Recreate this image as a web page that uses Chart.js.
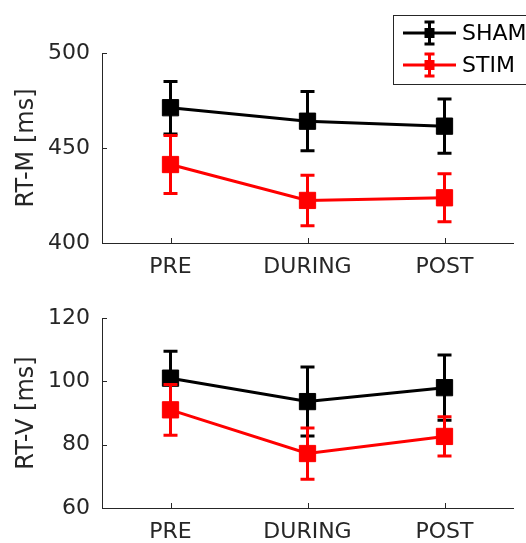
<!DOCTYPE html>
<html>
<head>
<meta charset="utf-8">
<script src="https://cdn.jsdelivr.net/npm/chart.js@4"></script>
<style>
  html, body { margin: 0; padding: 0; background: #fff; }
  #wrap { position: relative; width: 526px; height: 543px; overflow: hidden; }
  canvas { position: absolute; left: 0; }
  #c-top { top: 0; }
  #c-bot { top: 280px; }
</style>
</head>
<body>
<div id="wrap">
  <canvas id="c-top" width="526" height="280"></canvas>
  <canvas id="c-bot" width="526" height="263"></canvas>
</div>
<script>
// phases
const phases = ["PRE", "DURING", "POST"];
const seriesNames = ["SHAM", "STIM"];

// RT-M (ms)
const rtmSham = [471.2, 464.1, 461.5];
const rtmShamErr = [13.8, 15.6, 14.3];
const rtmStim = [441.3, 422.4, 423.8];
const rtmStimErr = [15.3, 13.3, 12.6];
const rtmTicks = [400, 450, 500];

// RT-V (ms)
const rtvSham = [101.0, 93.6, 98.0];
const rtvShamErr = [8.5, 10.9, 10.3];
const rtvStim = [91.0, 77.2, 82.6];
const rtvStimErr = [8.0, 8.1, 6.2];
const rtvTicks = [60, 80, 100, 120];

const AXIS = "#262626";
const FONT = "'DejaVu Sans', sans-serif";

// error bars + inward ticks
const errorBarPlugin = {
  id: "errbars",
  beforeDatasetDraw(chart, args) {
    const ds = chart.data.datasets[args.index];
    if (!ds.err) return;
    const y = chart.scales.y;
    const ctx = chart.ctx;
    ctx.save();
    ctx.strokeStyle = ds.borderColor;
    ctx.lineWidth = 3;
    args.meta.data.forEach((pt, i) => {
      const v = ds.data[i], e = ds.err[i];
      const yTop = y.getPixelForValue(v + e);
      const yBot = y.getPixelForValue(v - e);
      ctx.beginPath();
      ctx.moveTo(pt.x, yTop); ctx.lineTo(pt.x, yBot);
      ctx.moveTo(pt.x - 7, yTop); ctx.lineTo(pt.x + 7, yTop);
      ctx.moveTo(pt.x - 7, yBot); ctx.lineTo(pt.x + 7, yBot);
      ctx.stroke();
    });
    ctx.restore();
  },
  afterDraw(chart) {
    const ctx = chart.ctx;
    const a = chart.chartArea;
    const x = chart.scales.x, y = chart.scales.y;
    ctx.save();
    ctx.strokeStyle = AXIS;
    ctx.lineWidth = 1;
    ctx.beginPath();
    y.ticks.forEach(t => {
      const py = Math.round(y.getPixelForValue(t.value)) + 0.5;
      ctx.moveTo(a.left, py); ctx.lineTo(a.left + 5, py);
    });
    phases.forEach((p, i) => {
      const px = Math.round(x.getPixelForValue(i)) + 0.5;
      ctx.moveTo(px, a.bottom); ctx.lineTo(px, a.bottom - 5);
    });
    ctx.stroke();
    ctx.restore();
  }
};

// legend box (top panel only)
const legendPlugin = {
  id: "mlegend",
  afterDraw(chart, args, opts) {
    if (!opts.show) return;
    const ctx = chart.ctx;
    ctx.save();
    ctx.fillStyle = "#fff";
    ctx.fillRect(393.5, 15.5, 150, 69);
    ctx.strokeStyle = AXIS;
    ctx.lineWidth = 1;
    ctx.strokeRect(393.5, 15.5, 150, 69);
    const rows = [33, 65];
    chart.data.datasets.forEach((ds, i) => {
      const yy = rows[i];
      ctx.strokeStyle = ds.borderColor;
      ctx.fillStyle = ds.borderColor;
      ctx.lineWidth = 3;
      ctx.beginPath();
      ctx.moveTo(403, yy); ctx.lineTo(456, yy);
      ctx.moveTo(429.5, yy - 11); ctx.lineTo(429.5, yy + 11);
      ctx.moveTo(424.5, yy - 11); ctx.lineTo(434.5, yy - 11);
      ctx.moveTo(424.5, yy + 11); ctx.lineTo(434.5, yy + 11);
      ctx.stroke();
      ctx.fillRect(424.5, yy - 5, 10, 10);
      ctx.fillStyle = "#000";
      ctx.font = "22px " + FONT;
      ctx.textBaseline = "middle";
      ctx.textAlign = "left";
      ctx.fillText(ds.label, 462, yy + 1);
    });
    ctx.restore();
  }
};

function makeChart(id, sham, shamErr, stim, stimErr, ticks, title, padTop, xHeight, showLegend) {
  const ctx = document.getElementById(id).getContext("2d");
  return new Chart(ctx, {
    type: "line",
    data: {
      labels: phases,
      datasets: [
        {
          label: seriesNames[0],
          data: sham,
          err: shamErr,
          borderColor: "#000000",
          backgroundColor: "#000000",
          borderWidth: 3,
          pointStyle: "rect",
          pointRadius: 11.5,
          pointBorderWidth: 1,
          pointBackgroundColor: "#000000",
          pointBorderColor: "#000000",
          tension: 0,
          order: 1
        },
        {
          label: seriesNames[1],
          data: stim,
          err: stimErr,
          borderColor: "#ff0000",
          backgroundColor: "#ff0000",
          borderWidth: 3,
          pointStyle: "rect",
          pointRadius: 11.5,
          pointBorderWidth: 1,
          pointBackgroundColor: "#ff0000",
          pointBorderColor: "#ff0000",
          tension: 0,
          order: 0
        }
      ]
    },
    options: {
      responsive: false,
      animation: false,
      layout: { padding: { top: padTop, right: 13, left: 0, bottom: 0 } },
      plugins: {
        legend: { display: false },
        tooltip: { enabled: false },
        mlegend: { show: showLegend }
      },
      scales: {
        x: {
          type: "category",
          offset: true,
          grid: { display: false, drawTicks: false },
          border: { display: true, color: AXIS, width: 1 },
          ticks: { color: AXIS, font: { family: FONT, size: 22 }, padding: 11, maxRotation: 0 },
          afterFit: s => { s.height = xHeight; }
        },
        y: {
          min: ticks[0],
          max: ticks[ticks.length - 1],
          afterBuildTicks: s => { s.ticks = ticks.map(v => ({ value: v })); },
          grid: { display: false, drawTicks: false },
          border: { display: true, color: AXIS, width: 1 },
          ticks: { color: AXIS, font: { family: FONT, size: 22 }, padding: 12 },
          title: {
            display: true,
            text: title,
            color: AXIS,
            font: { family: FONT, size: 24 },
            padding: { top: 12, bottom: 0 }
          },
          afterFit: s => { s.width = 102; }
        }
      }
    },
    plugins: [errorBarPlugin, legendPlugin]
  });
}

makeChart("c-top", rtmSham, rtmShamErr, rtmStim, rtmStimErr, rtmTicks, "RT-M [ms]", 53, 37, true);
makeChart("c-bot", rtvSham, rtvShamErr, rtvStim, rtvStimErr, rtvTicks, "RT-V [ms]", 38, 35, false);
</script>
</body>
</html>
